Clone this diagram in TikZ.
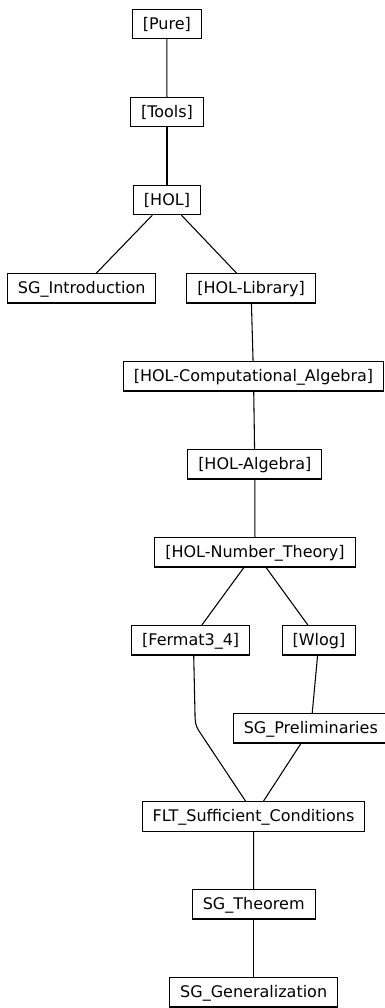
\documentclass[tikz,border=0pt]{standalone}
\usepackage{fontspec}
\setmainfont{DejaVu Sans}
\begin{document}
\begin{tikzpicture}[x=0.75pt,y=-0.75pt,
  thy/.style={draw, line width=0.8pt, rectangle, font=\fontsize{12pt}{14pt}\selectfont,
    text height=10pt, text depth=2.5pt, inner xsep=7.9pt, inner ysep=4.75pt},
  edge/.style={line width=0.8pt}]
\useasboundingbox (0,0) rectangle (385,1008);
\node[thy] (pure)  at (166.8,24) {[Pure]};
\node[thy] (tools) at (167,112) {[Tools]};
\node[thy] (hol)   at (167,200) {[HOL]};
\node[thy] (sgi)   at (81.7,288.3) {SG\_Introduction};
\node[thy] (lib)   at (251,288.3) {[HOL-Library]};
\node[thy] (ca)    at (253.5,376.3) {[HOL-Computational\_Algebra]};
\node[thy] (alg)   at (254.8,464.3) {[HOL-Algebra]};
\node[thy] (nt)    at (255,552.3) {[HOL-Number\_Theory]};
\node[thy] (f34)   at (190.7,640.3) {[Fermat3\_4]};
\node[thy] (wlog)  at (319,640.3) {[Wlog]};
\node[thy] (pre)   at (310.8,728.3) {SG\_Preliminaries};
\node[thy] (flt)   at (253.5,816.5) {FLT\_Sufficient\_Conditions};
\node[thy] (thm)   at (253.7,904.3) {SG\_Theorem};
\node[thy] (gen)   at (253.7,992.3) {SG\_Generalization};
\draw[edge] (pure) -- (tools);
\draw[edge] (tools) -- (hol);
\draw[edge] (hol) -- (sgi);
\draw[edge] (hol) -- (lib);
\draw[edge] (lib) -- (ca);
\draw[edge] (ca) -- (alg);
\draw[edge] (alg) -- (nt);
\draw[edge] (nt) -- (f34);
\draw[edge] (nt) -- (wlog);
\draw[edge] (wlog) -- (pre);
\draw[edge] (pre) -- (flt);
\coordinate (fa) at (195,714);
\coordinate (fb) at (199,731);
\draw[edge] ([xshift=2.25pt]f34.south) -- (fa) .. controls (195,722) and (195.7,726) .. (fb) -- ([xshift=-5.85pt]flt.north);
\draw[edge] (flt) -- (thm);
\draw[edge] (thm) -- (gen);
\end{tikzpicture}
\end{document}
